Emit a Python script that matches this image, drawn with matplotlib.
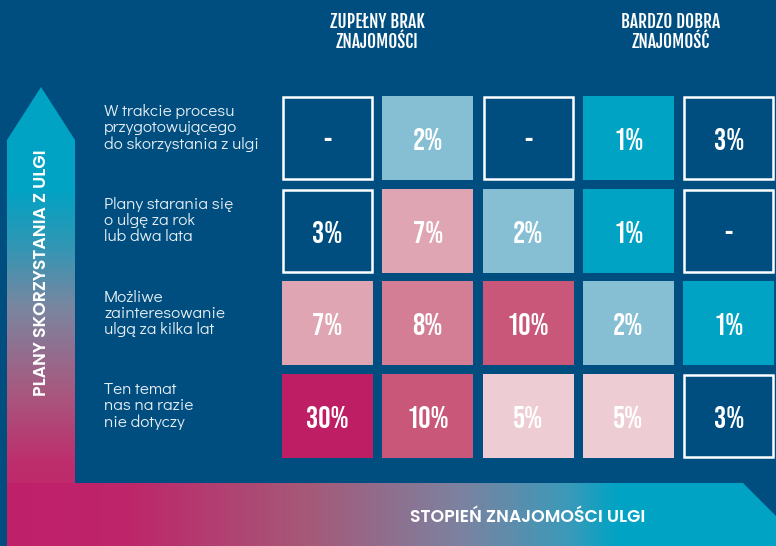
import matplotlib
matplotlib.use("Agg")
import matplotlib.pyplot as plt
import numpy as np
from matplotlib.patches import Rectangle, Polygon
from matplotlib.colors import LinearSegmentedColormap

# data
row_labels = ["W trakcie procesu\nprzygotowującego\ndo skorzystania z ulgi",
              "Plany starania się\no ulgę za rok\nlub dwa lata",
              "Możliwe\nzainteresowanie\nulgą za kilka lat",
              "Ten temat\nnas na razie\nnie dotyczy"]
col_headers = ["ZUPEŁNY BRAK\nZNAJOMOŚCI", "BARDZO DOBRA\nZNAJOMOŚĆ"]
values = [[None, 2, None, 1, 3],
          [3, 7, 2, 1, None],
          [7, 8, 10, 2, 1],
          [30, 10, 5, 5, 3]]
y_title = "PLANY SKORZYSTANIA Z ULGI"
x_title = "STOPIEŃ ZNAJOMOŚCI ULGI"

BG = "#004E80"
value_colors = {None: BG, 1: "#00A3C4", 2: "#86BED4", 3: BG, 5: "#EDCDD3",
                7: "#DFA5B2", 8: "#D47E95", 10: "#C8577A", 30: "#BE1E64"}

NUM_FONT = ["Bebas Neue", "Oswald", "DejaVu Sans"]
HEAD_FONT = ["Fjalla One", "DejaVu Sans"]
LABEL_FONT = ["Didact Gothic", "Questrial", "DejaVu Sans"]
TITLE_FONT = ["Poppins", "DejaVu Sans"]

fig = plt.figure(figsize=(7.76, 5.46), dpi=100)
fig.patch.set_facecolor(BG)
ax = fig.add_axes([0, 0, 1, 1])
ax.set_xlim(0, 776)
ax.set_ylim(546, 0)
ax.axis("off")

# vertical arrow with gradient (top teal -> bottom magenta)
vcmap = LinearSegmentedColormap.from_list(
    "v", [(0, "#00A3C4"), (0.22, "#00A3C4"), (0.35, "#3396B4"), (0.48, "#7A86A0"),
          (0.66, "#A65A80"), (0.82, "#BE2E6C"), (1, "#C0206A")])
grad = np.linspace(0, 1, 256).reshape(-1, 1)
im = ax.imshow(grad, cmap=vcmap, extent=[7, 75, 546, 87], aspect="auto", zorder=1)
varrow = Polygon([(7, 546), (7, 140), (41, 87), (75, 140), (75, 546)], closed=True,
                 transform=ax.transData)
im.set_clip_path(varrow)

# horizontal arrow with gradient (left magenta -> right teal)
hcmap = LinearSegmentedColormap.from_list(
    "h", [(0, "#C0206A"), (0.15, "#BE256A"), (0.38, "#A65878"), (0.58, "#7C82A0"),
          (0.72, "#3A9ABA"), (0.78, "#00A3C4"), (1, "#00A3C4")])
im2 = ax.imshow(grad.T, cmap=hcmap, extent=[7, 790, 546, 483], aspect="auto", zorder=1)
harrow = Polygon([(7, 483), (743, 483), (800, 540), (743, 597), (7, 597)], closed=True,
                 transform=ax.transData)
im2.set_clip_path(harrow)

# cells
x0, y0 = 282, 96
cw, ch = 91, 84
gx, gy = 100.3, 92.6
for i, row in enumerate(values):
    for j, v in enumerate(row):
        x = x0 + j * gx
        y = y0 + i * gy
        c = value_colors[v]
        if c == BG:
            ax.add_patch(Rectangle((x + 1, y + 1), cw - 2, ch - 2, facecolor=BG,
                                   edgecolor="white", lw=1.8, zorder=3))
        else:
            ax.add_patch(Rectangle((x, y), cw, ch, facecolor=c, edgecolor="none", zorder=3))
        txt = "-" if v is None else f"{v}%"
        ax.text(x + cw / 2, y + ch / 2 + 1, txt, ha="center", va="center", color="white",
                fontsize=22, family=NUM_FONT, zorder=4)

# row labels
for i, lab in enumerate(row_labels):
    ax.text(104, 128 + i * 92.6, lab, ha="left", va="center", color="#E6EEF4",
            fontsize=12.3, family=LABEL_FONT, linespacing=1.08)

# column headers
ax.text(377, 32, col_headers[0], ha="center", va="center", color="white", fontsize=12.5,
        family=HEAD_FONT, linespacing=0.95)
ax.text(671, 32, col_headers[1], ha="center", va="center", color="white", fontsize=12.5,
        family=HEAD_FONT, linespacing=0.95)

# axis titles
ax.text(42, 273, y_title, rotation=90, ha="center", va="center", color="white",
        fontsize=12.5, fontweight="semibold", family=TITLE_FONT, zorder=5)
ax.text(528, 518, x_title, ha="center", va="center", color="white",
        fontsize=12.5, fontweight="semibold", family=TITLE_FONT, zorder=5)

fig.savefig("out.png", dpi=100, facecolor=BG)
